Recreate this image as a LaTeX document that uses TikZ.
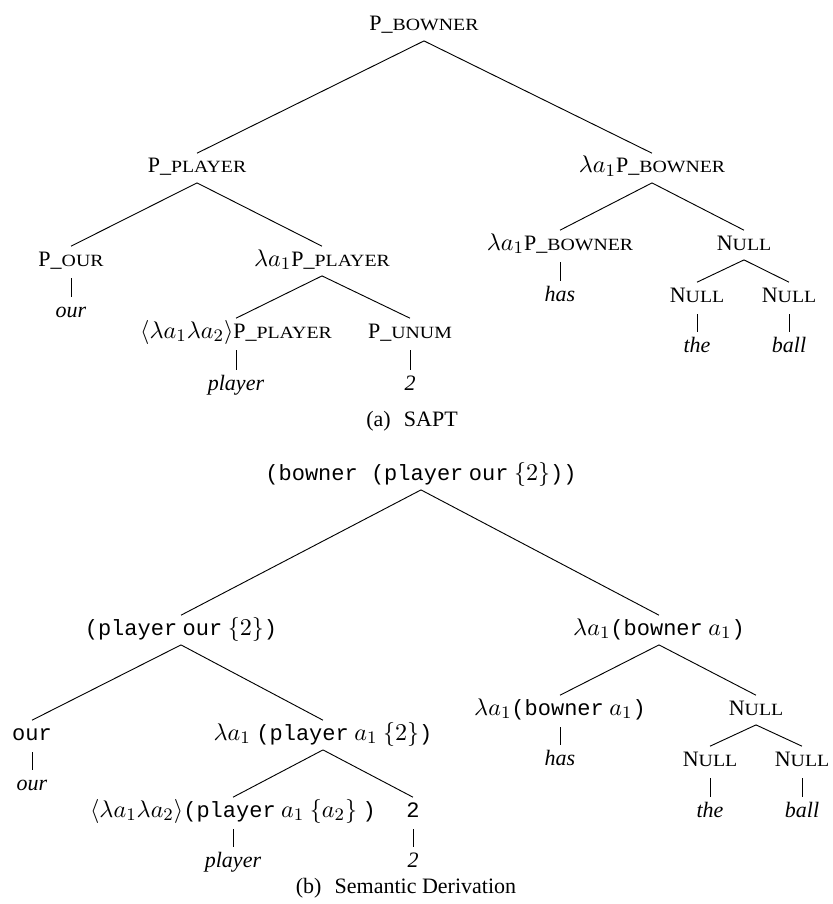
\documentclass[tikz,border=0pt]{standalone}
\usepackage{fontspec}
\setmainfont{Liberation Serif}
\setmonofont{Liberation Mono}
\usepackage{graphicx}
\DeclareMathSizes{10}{11}{7.7}{5.5}
\newcommand\fsc[1]{\scalebox{0.9}[0.78]{#1}}
\newcommand\nul{N\fsc{ULL}}
\begin{document}
\begin{tikzpicture}[x=0.4545pt, y=-0.4545pt,
  tn/.style={anchor=base, inner xsep=0pt, inner ysep=1.8pt, text height=7pt, text depth=2.5pt},
  edge/.style={line width=0.42pt},
  uedge/.style={line width=0.42pt, shorten <=1pt},
  captext/.style={anchor=base, inner sep=0pt}]
\useasboundingbox (0,0) rectangle (832,904);
% ---------------- (a) SAPT ----------------
\node[tn] (A0) at (424,31) {P\_\fsc{BOWNER}};
\node[tn] (A1) at (197,173) {P\_\fsc{PLAYER}};
\node[tn] (A2) at (652,173) {$\lambda a_1$P\_\fsc{BOWNER}};
\node[tn] (A11) at (71,266) {P\_\fsc{OUR}};
\node[tn] (A12) at (322,266) {$\lambda a_1$P\_\fsc{PLAYER}};
\node[tn] (A111) at (71,317) {\textit{our}};
\node[tn] (A121) at (236,338) {$\langle\lambda a_1\lambda a_2\rangle$P\_\fsc{PLAYER}};
\node[tn] (A122) at (410,338) {P\_\fsc{UNUM}};
\node[tn] (A1211) at (236,390) {\textit{player}};
\node[tn] (A1221) at (410,390) {\textit{2}};
\node[tn] (A21) at (560,250) {$\lambda a_1$P\_\fsc{BOWNER}};
\node[tn] (A22) at (744,250) {\nul};
\node[tn] (A211) at (560,301) {\textit{has}};
\node[tn] (A221) at (697,302) {\nul};
\node[tn] (A222) at (789,302) {\nul};
\node[tn] (A2211) at (697,352) {\textit{the}};
\node[tn] (A2221) at (789,352) {\textit{ball}};
\node[captext] (CA) at (412,426) {(a)\hspace{0.6em}SAPT};
\draw[edge] (A0.south) -- (A1.north);
\draw[edge] (A0.south) -- (A2.north);
\draw[edge] (A1.south) -- (A11.north);
\draw[edge] (A1.south) -- (A12.north);
\draw[uedge] (A11.south) -- (A111.north);
\draw[edge] (A12.south) -- (A121.north);
\draw[edge] (A12.south) -- (A122.north);
\draw[uedge] (A121.south) -- (A1211.north);
\draw[uedge] (A122.south) -- (A1221.north);
\draw[edge] (A2.south) -- (A21.north);
\draw[edge] (A2.south) -- (A22.north);
\draw[uedge] (A21.south) -- (A211.north);
\draw[edge] (A22.south) -- (A221.north);
\draw[edge] (A22.south) -- (A222.north);
\draw[uedge] (A221.south) -- (A2211.north);
\draw[uedge] (A222.south) -- (A2221.north);
% ---------------- (b) Semantic Derivation ----------------
\node[tn] (B0) at (421,480) {\texttt{(bowner (player} \texttt{our} $\{2\}$\texttt{))}};
\node[tn] (B1) at (181,635) {\texttt{(player} \texttt{our} $\{2\}$\texttt{)}};
\node[tn] (B2) at (659,635) {$\lambda a_1$\texttt{(bowner} $a_1$\texttt{)}};
\node[tn] (B11) at (32,740) {\texttt{our}};
\node[tn] (B12) at (323,740) {$\lambda a_1$ \texttt{(player} $a_1$ $\{2\}$\texttt{)}};
\node[tn] (B111) at (32,790) {\textit{our}};
\node[tn] (B121) at (233,817) {$\langle\lambda a_1\lambda a_2\rangle$\texttt{(player} $a_1$ $\{a_2\}$ \texttt{)}};
\node[tn] (B122) at (413,817) {\texttt{2}};
\node[tn] (B1211) at (233,867) {\textit{player}};
\node[tn] (B1221) at (413,867) {\textit{2}};
\node[tn] (B21) at (560,715) {$\lambda a_1$\texttt{(bowner} $a_1$\texttt{)}};
\node[tn] (B22) at (756,715) {\nul};
\node[tn] (B211) at (560,765) {\textit{has}};
\node[tn] (B221) at (710,766) {\nul};
\node[tn] (B222) at (802,766) {\nul};
\node[tn] (B2211) at (710,817) {\textit{the}};
\node[tn] (B2221) at (802,817) {\textit{ball}};
\node[captext] (CB) at (406,893) {(b)\hspace{0.6em}Semantic Derivation};
\draw[edge] (B0.south) -- (B1.north);
\draw[edge] (B0.south) -- (B2.north);
\draw[edge] (B1.south) -- (B11.north);
\draw[edge] (B1.south) -- (B12.north);
\draw[uedge] (B11.south) -- (B111.north);
\draw[edge] (B12.south) -- (B121.north);
\draw[edge] (B12.south) -- (B122.north);
\draw[uedge] (B121.south) -- (B1211.north);
\draw[uedge] (B122.south) -- (B1221.north);
\draw[edge] (B2.south) -- (B21.north);
\draw[edge] (B2.south) -- (B22.north);
\draw[uedge] (B21.south) -- (B211.north);
\draw[edge] (B22.south) -- (B221.north);
\draw[edge] (B22.south) -- (B222.north);
\draw[uedge] (B221.south) -- (B2211.north);
\draw[uedge] (B222.south) -- (B2221.north);
\end{tikzpicture}
\end{document}
